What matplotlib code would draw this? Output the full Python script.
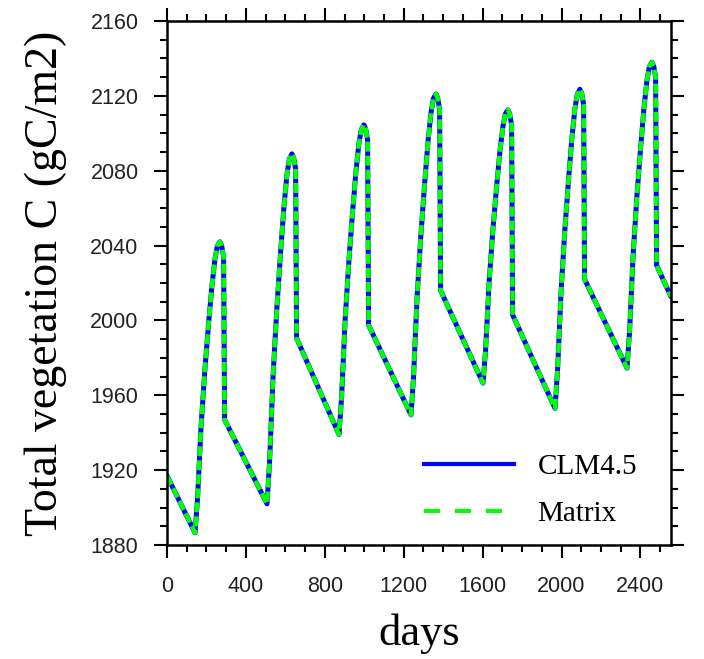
import matplotlib
matplotlib.use("Agg")
import matplotlib.pyplot as plt
from matplotlib.lines import Line2D
from matplotlib.ticker import MultipleLocator

plt.rcParams['lines.scale_dashes'] = False

# ---- data ----
days = [0, 142, 155, 173, 192, 211, 228, 243, 255, 268, 277, 287, 292,
        507, 520, 538, 557, 576, 593, 608, 620, 633, 642, 652, 657,
        872, 885, 903, 922, 941, 958, 973, 985, 998, 1007, 1017, 1022,
        1237, 1250, 1268, 1287, 1306, 1323, 1338, 1350, 1363, 1372, 1382, 1387,
        1602, 1615, 1633, 1652, 1671, 1688, 1703, 1715, 1728, 1737, 1747, 1752,
        1967, 1980, 1998, 2017, 2036, 2053, 2068, 2080, 2093, 2102, 2112, 2117,
        2332, 2345, 2363, 2382, 2401, 2418, 2433, 2445, 2458, 2467, 2477, 2482,
        2555]
clm45 = [1917, 1886.5, 1905.2, 1944.0, 1973.6, 1998.5, 2018.7, 2032.7, 2039.7, 2042, 2040, 2034, 1947,
         1902, 1924.4, 1971.2, 2006.7, 2036.6, 2061.0, 2077.8, 2086.2, 2089, 2087, 2081, 1990.5,
         1939, 1958.9, 2000.2, 2031.7, 2058.2, 2079.7, 2094.6, 2102.0, 2104.5, 2102.5, 2096.5, 1997.5,
         1949.5, 1970.1, 2013.0, 2045.5, 2073.0, 2095.3, 2110.7, 2118.4, 2121, 2119, 2113, 2016,
         1966.5, 1984.0, 2020.5, 2048.3, 2071.6, 2090.6, 2103.7, 2110.3, 2112.5, 2110.5, 2104.5, 2003,
         1953, 1973.5, 2016.1, 2048.5, 2075.8, 2097.9, 2113.3, 2120.9, 2123.5, 2121.5, 2115.5, 2022,
         1974.5, 1994.1, 2035.0, 2066.1, 2092.2, 2113.5, 2128.2, 2135.5, 2138, 2136, 2130, 2029.5,
         2012.7]
matrix = list(clm45)  # the Matrix run overlays CLM4.5 exactly

series_labels = ["CLM4.5", "Matrix"]
x_ticks = [0, 400, 800, 1200, 1600, 2000, 2400]
y_ticks = [1880, 1920, 1960, 2000, 2040, 2080, 2120, 2160]

# ---- figure ----
fig = plt.figure(figsize=(7.04, 6.59), dpi=100)
ax = fig.add_axes([167/704, 1-545/659, (671-167)/704, (545-21)/659])

blue = "#0000ff"
green = "#00ff00"
ax.plot(days, clm45, color=blue, lw=3.6, solid_capstyle='round', solid_joinstyle='round')
ax.plot(days, matrix, color=green, lw=3.3, dashes=(7.2, 2.9), dash_capstyle='butt',
        dash_joinstyle='round')

ax.set_xlim(0, 2555)
ax.set_ylim(1880, 2160)
ax.set_xticks(x_ticks)
ax.set_yticks(y_ticks)
ax.xaxis.set_minor_locator(MultipleLocator(100))
ax.yaxis.set_minor_locator(MultipleLocator(10))

for s in ax.spines.values():
    s.set_linewidth(1.8)
ax.tick_params(which='both', direction='out', top=True, right=True, width=1.5, color='black')
ax.tick_params(which='major', length=9.5)
ax.tick_params(which='minor', length=5)
ax.tick_params(axis='x', which='major', pad=13)
ax.tick_params(axis='y', which='major', pad=11)
for lab in ax.get_xticklabels() + ax.get_yticklabels():
    lab.set_family('Liberation Sans')
    lab.set_fontsize(15.5)
    lab.set_color('#222222')

ax.set_xlabel("days", family='Liberation Serif', fontsize=32, labelpad=12)
ax.set_ylabel("Total vegetation C (gC/m2)", family='Liberation Serif', fontsize=33, labelpad=17)

h1 = Line2D([], [], color=blue, lw=3.0)
h2 = Line2D([], [], color=green, lw=3.0, dashes=(11.5, 10.8), dash_capstyle='butt')
leg = ax.legend([h1, h2], series_labels, loc='center left', bbox_to_anchor=(0.51, 0.1045),
                frameon=False, handlelength=3.1, handletextpad=0.79, labelspacing=0.72,
                borderpad=0, borderaxespad=0,
                prop={'family': 'Liberation Serif', 'size': 21})

fig.savefig("out.png", dpi=100)
